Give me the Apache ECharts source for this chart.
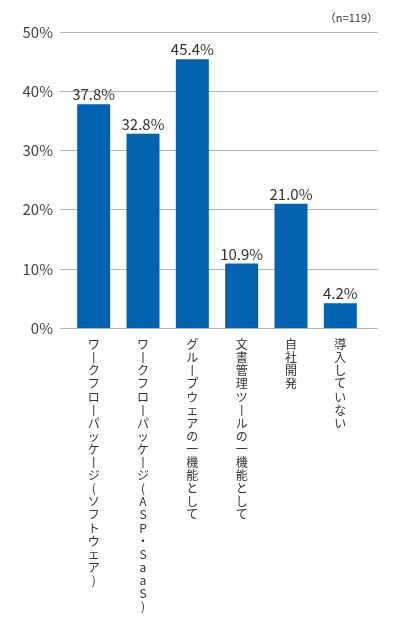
<!DOCTYPE html>
<html lang="ja">
<head>
<meta charset="UTF-8">
<title>導入形態</title>
<script src="https://cdn.jsdelivr.net/npm/echarts@6/dist/echarts.min.js"></script>
<style>
  html, body { margin: 0; padding: 0; background: #fff; }
  #main { width: 400px; height: 620px; }
</style>
</head>
<body>
<div id="main"></div>
<script>
  var categories = [
    'ワークフローパッケージ(ソフトウェア)',
    'ワークフローパッケージ(ASP・SaaS)',
    'グループウェアの一機能として',
    '文書管理ツールの一機能として',
    '自社開発',
    '導入していない'
  ];
  var values = [37.8, 32.8, 45.4, 10.9, 21.0, 4.2];
  var yTicks = [0, 10, 20, 30, 40, 50];
  var note = '（n=119）';

  var font = '"Noto Sans CJK JP", "Noto Sans", sans-serif';
  var gridTop = 32, gridBottom = 292;

  // 縦書き風: 1文字ずつ改行、長音は縦棒に
  function vertical(s) {
    return s.split('').map(function (c) { return c === 'ー' ? '丨' : c; }).join('\n');
  }

  var chart = echarts.init(document.getElementById('main'));
  chart.setOption({
    animation: false,
    graphic: [{
      type: 'text', right: 22, top: 12,
      style: { text: note, fontSize: 11, fill: '#333', fontFamily: font }
    }],
    grid: [
      { left: 60, right: 22, top: gridTop, bottom: gridBottom },
      { left: 69, right: 35, top: gridTop, bottom: gridBottom }
    ],
    xAxis: [
      { gridIndex: 0, type: 'category', data: categories, show: false },
      {
        gridIndex: 1, type: 'category', data: categories,
        axisLine: { show: false }, axisTick: { show: false },
        axisLabel: {
          interval: 0, margin: 10, fontSize: 12, lineHeight: 13.1,
          color: '#333', fontFamily: font, verticalAlign: 'top',
          formatter: vertical
        }
      }
    ],
    yAxis: [
      {
        gridIndex: 0, type: 'value', min: yTicks[0], max: yTicks[yTicks.length - 1], interval: 10,
        axisLine: { show: false }, axisTick: { show: false },
        axisLabel: { formatter: '{value}%', fontSize: 15, color: '#444', margin: 7, fontFamily: font },
        splitLine: { lineStyle: { color: '#b4b4b4', width: 1 } }
      },
      { gridIndex: 1, type: 'value', min: 0, max: 50, show: false }
    ],
    series: [{
      type: 'bar', xAxisIndex: 1, yAxisIndex: 1,
      data: values, barWidth: 33,
      itemStyle: { color: '#0062b1' },
      label: {
        show: true, position: 'top', distance: 2,
        fontSize: 15, color: '#333', fontFamily: font,
        formatter: function (p) { return p.value.toFixed(1) + '%'; }
      }
    }]
  });
</script>
</body>
</html>
